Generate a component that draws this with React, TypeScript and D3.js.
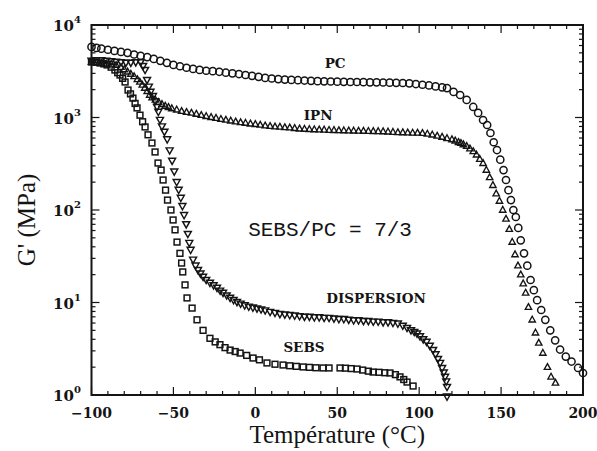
import React from 'react';
import * as d3 from 'd3';

// G' (MPa) vs temperature (°C)
const PC: [number, number][] = [
  [-100, 5800], [-97, 5650], [-94, 5550], [-90, 5400], [-86, 5250], [-82, 5120], [-78, 5000], [-74, 4800],
  [-70, 4650], [-66, 4500], [-62, 4300], [-58, 4100], [-54, 3900], [-50, 3700], [-46, 3580], [-42, 3450],
  [-38, 3350], [-34, 3270], [-30, 3200], [-26, 3170], [-22, 3120], [-18, 3050], [-14, 3000], [-10, 2950],
  [-6, 2880], [-2, 2820], [2, 2750], [6, 2680], [10, 2640], [14, 2600], [18, 2570], [22, 2550], [26, 2530],
  [30, 2510], [34, 2490], [38, 2470], [42, 2460], [46, 2450], [50, 2440], [54, 2430], [58, 2420], [62, 2420],
  [66, 2410], [70, 2400], [74, 2400], [78, 2390], [82, 2380], [86, 2370], [90, 2360], [94, 2340], [98, 2300],
  [102, 2260], [106, 2220], [110, 2170], [114, 2120], [117, 2080], [121, 1890], [125, 1750], [129, 1550],
  [133, 1300], [136, 1120], [139, 940], [141.5, 830], [143.5, 680], [145.5, 540], [147.5, 445], [149.5, 350],
  [151.5, 270], [153, 211], [154.5, 164], [156, 128], [157.5, 100], [159, 84], [160.5, 64], [162, 47],
  [164, 34], [166, 25], [168, 17.5], [170, 13.6], [172, 10.6], [174.5, 8.3], [177, 6.5], [180, 5.0],
  [183, 3.9], [186, 3.1], [189.5, 2.6], [193, 2.3], [197, 1.96], [200, 1.73],
];

const IPN: [number, number][] = [
  [-100, 3980], [-97, 3930], [-94, 3880], [-91, 3820], [-88, 3790], [-85, 3680], [-82, 3500], [-80, 3300],
  [-78, 3120], [-76, 2950], [-74, 2780], [-72, 2580], [-70.5, 2420], [-69, 2250], [-67.5, 2080], [-66, 1920],
  [-64.5, 1750], [-63, 1640], [-61, 1550], [-59, 1460], [-57, 1390], [-55, 1330], [-53, 1290], [-51, 1250],
  [-48, 1210], [-45, 1170], [-42, 1140], [-39, 1120], [-36, 1090], [-33, 1060], [-30, 1030], [-27, 1005],
  [-24, 985], [-21, 960], [-18, 940], [-15, 920], [-12, 900], [-9, 885], [-6, 870], [-3, 855], [0, 845],
  [3, 830], [6, 815], [9, 805], [12, 795], [15, 790], [18, 780], [21, 775], [24, 765], [27, 755], [30, 750],
  [33, 745], [36, 740], [39, 738], [42, 735], [45, 730], [48, 728], [51, 725], [54, 722], [57, 720], [60, 718],
  [63, 716], [66, 714], [69, 712], [72, 710], [75, 708], [78, 705], [81, 700], [84, 695], [87, 690], [90, 688],
  [93, 685], [96, 682], [99, 680], [102, 676], [105, 665], [108, 650], [111, 632], [114, 615], [117, 595],
  [120, 578], [122, 560], [124, 540], [125.5, 528], [127, 510], [129, 490], [131, 460], [133, 430], [135, 395],
  [137, 355], [139, 320], [141, 270], [143, 225], [145, 185], [147, 150], [149, 125], [151, 100], [153, 80],
  [155, 62], [156.8, 45], [158.5, 33], [160.3, 25], [162, 20], [163.5, 16], [165, 12.7], [166.7, 8.9],
  [169, 6.5], [171, 4.7], [173, 3.65], [175.5, 2.84], [178.3, 2.0], [180.5, 1.57], [183.2, 1.35],
];

const DISPERSION: [number, number][] = [
  [-100, 4100], [-97, 4150], [-94, 4150], [-91, 4100], [-88, 4050], [-85, 4000], [-82, 3950], [-79, 3900],
  [-76, 3900], [-73, 3950], [-70, 3950], [-68.5, 3600], [-67.3, 3260], [-66.1, 2540], [-65, 2150], [-64, 1890],
  [-62.5, 1700], [-61.2, 1500], [-60, 1300], [-59.2, 1150], [-58.2, 940], [-57, 800], [-55.5, 700],
  [-53.8, 580], [-52.3, 440], [-50.8, 340], [-49.5, 260], [-48, 200], [-46.8, 165], [-45.5, 135], [-44.5, 110],
  [-43.5, 88], [-42.2, 70], [-41.2, 55], [-40.3, 44], [-39.5, 37], [-38, 29], [-36.5, 25], [-35, 22.4],
  [-33.5, 20.5], [-31.9, 18.9], [-30, 17.5], [-27.7, 16.3], [-25.5, 15.3], [-23.4, 14.4], [-21.5, 13.4],
  [-19.7, 12.7], [-17.5, 11.9], [-15.4, 11.2], [-13.3, 10.6], [-11.2, 10.1], [-9, 9.7], [-6.5, 9.3], [-4, 9.0],
  [-1.5, 8.8], [1, 8.6], [3.5, 8.4], [6, 8.2], [9, 7.9], [12, 7.7], [15, 7.5], [18, 7.4], [21, 7.3], [24, 7.2],
  [27, 7.1], [30, 7.0], [33, 7.0], [36, 6.9], [39, 6.9], [42, 6.8], [45, 6.8], [48, 6.7], [51, 6.6], [54, 6.6],
  [57, 6.5], [60, 6.4], [63, 6.4], [66, 6.3], [69, 6.3], [72, 6.2], [75, 6.2], [78, 6.1], [81, 6.1], [84, 6.0],
  [87, 5.9], [90, 5.6], [92.6, 5.3], [95, 5.0], [97, 4.8], [98.7, 4.6], [100.5, 4.3], [102.5, 4.0],
  [104.5, 3.75], [106.5, 3.4], [108.5, 3.06], [110, 2.75], [111.5, 2.45], [112.8, 2.22], [114, 1.95],
  [115, 1.75], [115.8, 1.57], [116.5, 1.4], [117, 1.22], [117, 0.96],
];

const SEBS: [number, number][] = [
  [-100, 3980], [-97, 3950], [-94.8, 3880], [-92.5, 3800], [-90.5, 3700], [-88, 3500], [-85.7, 3260],
  [-84, 3050], [-82.6, 2880], [-81, 2650], [-79.5, 2420], [-77.7, 1980], [-76.2, 1800], [-74.7, 1620],
  [-73.4, 1420], [-72.2, 1270], [-70.4, 1060], [-68.8, 900], [-67.3, 790], [-65.5, 650], [-63.1, 530],
  [-61.2, 424], [-59.4, 322], [-57.5, 270], [-56.3, 211], [-54.8, 164], [-53.6, 128], [-51.5, 100],
  [-50.2, 78], [-49, 61], [-47.8, 45], [-46, 34], [-45, 26.7], [-44.3, 21.4], [-42.9, 15.5], [-41.7, 11.2],
  [-38.6, 8.7], [-35.6, 6.5], [-31.9, 5.0], [-27.7, 4.1], [-24.5, 3.75], [-21.6, 3.5], [-18.5, 3.25],
  [-15.4, 3.06], [-12.3, 2.95], [-9.3, 2.84], [-5.3, 2.68], [-1.4, 2.51], [2.5, 2.4], [7.1, 2.22], [12, 2.15],
  [16.9, 2.11], [21, 2.07], [25, 2.04], [29.2, 2.01], [33, 1.99], [37, 1.97], [41.3, 1.96], [45, 1.96],
  [51.7, 1.96], [55, 1.95], [58.5, 1.93], [62.1, 1.91], [65.5, 1.86], [69, 1.81], [71.9, 1.77], [75.5, 1.76],
  [79, 1.74], [82.2, 1.73], [85.5, 1.66], [88.3, 1.57], [90.6, 1.47], [92.6, 1.38], [96.3, 1.25],
];

const X_MAJOR = [-100, -50, 0, 50, 100, 150, 200];
const Y_DECADES = [1, 10, 100, 1000, 10000];
const Y_EXP = ['0', '1', '2', '3', '4'];

const LABELS: { text: string; t: number; g: number }[] = [
  { text: 'PC', t: 48.7, g: 3430 },
  { text: 'IPN', t: 38.3, g: 940 },
  { text: 'DISPERSION', t: 73.7, g: 9.9 },
  { text: 'SEBS', t: 29.7, g: 2.92 },
];

const W = 597;
const H = 451;
const L = 91.5, R = 583, T = 25, B = 395;

const x = d3.scaleLinear().domain([-100, 200]).range([L, R]);
const y = d3.scaleLog().domain([1, 10000]).range([B, T]);

const INK = '#141414';

const circle = (cx: number, cy: number, k: string) => (
  <circle key={k} cx={cx} cy={cy} r={3.6} fill="none" stroke={INK} strokeWidth={1.5} />
);
const square = (cx: number, cy: number, k: string) => (
  <rect key={k} x={cx - 2.9} y={cy - 2.9} width={5.8} height={5.8} fill="none" stroke={INK} strokeWidth={1.5} />
);
const triUp = (cx: number, cy: number, k: string) => (
  <path key={k} d={`M${cx},${cy - 3.6}L${cx + 3.2},${cy + 2.2}L${cx - 3.2},${cy + 2.2}Z`} fill="none" stroke={INK} strokeWidth={1.35} />
);
const triDown = (cx: number, cy: number, k: string) => (
  <path key={k} d={`M${cx - 3.5},${cy - 2.6}L${cx + 3.5},${cy - 2.6}L${cx},${cy + 3.6}Z`} fill="none" stroke={INK} strokeWidth={1.45} />
);

export default function App() {
  const xMinor = d3.range(-100, 201, 10).filter(v => !X_MAJOR.includes(v));
  const yMinor: number[] = [];
  for (let d = 1; d < 10000; d *= 10) for (let m = 2; m <= 9; m++) yMinor.push(d * m);

  const series: { data: [number, number][]; mark: typeof circle; id: string }[] = [
    { data: SEBS, mark: square, id: 's' },
    { data: DISPERSION, mark: triDown, id: 'd' },
    { data: IPN, mark: triUp, id: 'i' },
    { data: PC, mark: circle, id: 'p' },
  ];

  const tickFont = { fontFamily: '"DejaVu Serif", serif', fontWeight: 700 } as const;

  return (
    <svg width={W} height={H} style={{ position: 'absolute', left: 0, top: 0, background: '#fff' }}>
      <rect width={W} height={H} fill="#fff" />

      {/* ticks, all pointing inward */}
      <g stroke={INK} strokeWidth={1.2}>
        {X_MAJOR.map(v => (
          <g key={'xm' + v}>
            <line x1={x(v)} x2={x(v)} y1={B} y2={B - 8} />
            <line x1={x(v)} x2={x(v)} y1={T} y2={T + 8} />
          </g>
        ))}
        {xMinor.map(v => (
          <g key={'xn' + v}>
            <line x1={x(v)} x2={x(v)} y1={B} y2={B - 4} />
            <line x1={x(v)} x2={x(v)} y1={T} y2={T + 4} />
          </g>
        ))}
        {Y_DECADES.map(v => (
          <g key={'ym' + v}>
            <line x1={L} x2={L + 8} y1={y(v)} y2={y(v)} />
            <line x1={R} x2={R - 8} y1={y(v)} y2={y(v)} />
          </g>
        ))}
        {yMinor.map(v => (
          <g key={'yn' + v}>
            <line x1={L} x2={L + 4} y1={y(v)} y2={y(v)} />
            <line x1={R} x2={R - 4} y1={y(v)} y2={y(v)} />
          </g>
        ))}
      </g>

      <rect x={L} y={T} width={R - L} height={B - T} fill="none" stroke={INK} strokeWidth={2} />

      {/* x tick labels */}
      {X_MAJOR.map(v => (
        <text key={'xl' + v} x={x(v)} y={418} textAnchor="middle" fontSize={14} fill={INK} style={tickFont}>
          {v < 0 ? '\u2212' + Math.abs(v) : String(v)}
        </text>
      ))}

      {/* y tick labels 10^n */}
      {Y_DECADES.map((v, i) => (
        <text key={'yl' + v} x={53} y={y(v) + 6} fontSize={15} fill={INK} style={tickFont}>
          10<tspan dy={-8} fontSize={10}>{Y_EXP[i]}</tspan>
        </text>
      ))}

      {/* data */}
      {series.map(s => (
        <g key={s.id}>{s.data.map(([t, g], j) => s.mark(x(t), y(g), s.id + j))}</g>
      ))}

      {/* curve labels */}
      {LABELS.map(l => (
        <text key={l.text} x={x(l.t)} y={y(l.g)} textAnchor="middle" fontSize={13.5} fill={INK} style={tickFont}>
          {l.text}
        </text>
      ))}
      <text x={x(45.6)} y={y(52)} textAnchor="middle" fontSize={21} fill={INK}
        style={{ fontFamily: '"Liberation Mono", monospace' }}>
        SEBS/PC = 7/3
      </text>

      {/* axis titles */}
      <text x={(L + R) / 2} y={443} textAnchor="middle" fontSize={25} fill={INK}
        style={{ fontFamily: '"Liberation Serif", serif' }}>
        Température (°C)
      </text>
      <text transform={`translate(35,${(T + B) / 2 + 10}) rotate(-90)`} textAnchor="middle" fontSize={25} fill={INK}
        style={{ fontFamily: '"Liberation Serif", serif' }}>
        G' (MPa)
      </text>
    </svg>
  );
}
